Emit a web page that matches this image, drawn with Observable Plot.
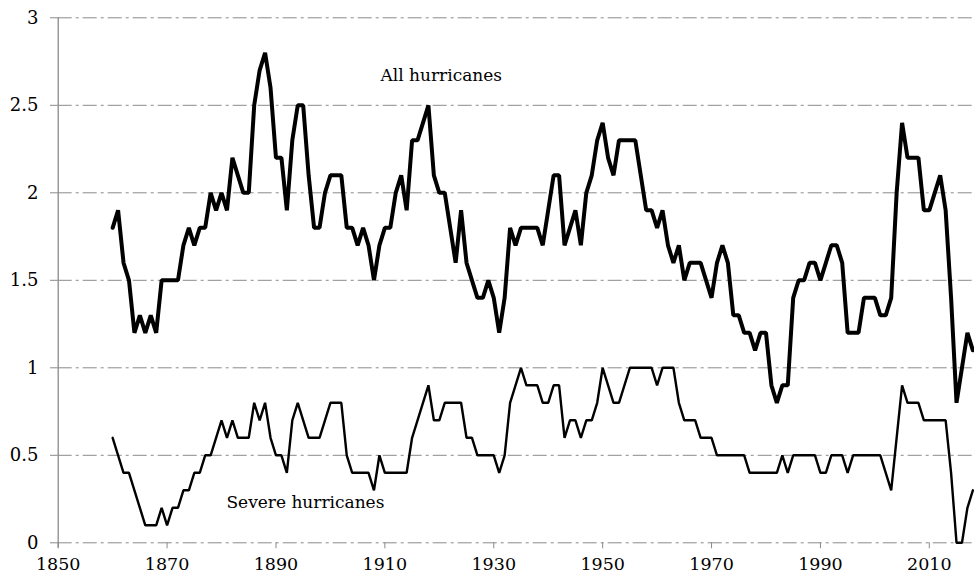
<!DOCTYPE html>
<html>
<head>
<meta charset="utf-8">
<script src="https://cdn.jsdelivr.net/npm/d3@7"></script>
<script src="https://cdn.jsdelivr.net/npm/@observablehq/plot@0.6"></script>
<style>
  html, body { margin: 0; padding: 0; background: #fff; }
  #chart { width: 974px; height: 581px; }
</style>
</head>
<body>
<div id="chart"></div>
<script>
const startYear = 1860;
const allHurricanes = [
  1.8, 1.9, 1.6, 1.5, 1.2, 1.3, 1.2, 1.3, 1.2, 1.5,
  1.5, 1.5, 1.5, 1.7, 1.8, 1.7, 1.8, 1.8, 2.0, 1.9,
  2.0, 1.9, 2.2, 2.1, 2.0, 2.0, 2.5, 2.7, 2.8, 2.6,
  2.2, 2.2, 1.9, 2.3, 2.5, 2.5, 2.1, 1.8, 1.8, 2.0,
  2.1, 2.1, 2.1, 1.8, 1.8, 1.7, 1.8, 1.7, 1.5, 1.7,
  1.8, 1.8, 2.0, 2.1, 1.9, 2.3, 2.3, 2.4, 2.5, 2.1,
  2.0, 2.0, 1.8, 1.6, 1.9, 1.6, 1.5, 1.4, 1.4, 1.5,
  1.4, 1.2, 1.4, 1.8, 1.7, 1.8, 1.8, 1.8, 1.8, 1.7,
  1.9, 2.1, 2.1, 1.7, 1.8, 1.9, 1.7, 2.0, 2.1, 2.3,
  2.4, 2.2, 2.1, 2.3, 2.3, 2.3, 2.3, 2.1, 1.9, 1.9,
  1.8, 1.9, 1.7, 1.6, 1.7, 1.5, 1.6, 1.6, 1.6, 1.5,
  1.4, 1.6, 1.7, 1.6, 1.3, 1.3, 1.2, 1.2, 1.1, 1.2,
  1.2, 0.9, 0.8, 0.9, 0.9, 1.4, 1.5, 1.5, 1.6, 1.6,
  1.5, 1.6, 1.7, 1.7, 1.6, 1.2, 1.2, 1.2, 1.4, 1.4,
  1.4, 1.3, 1.3, 1.4, 2.0, 2.4, 2.2, 2.2, 2.2, 1.9,
  1.9, 2.0, 2.1, 1.9, 1.4, 0.8, 1.0, 1.2, 1.1
];
const severeHurricanes = [
  0.6, 0.5, 0.4, 0.4, 0.3, 0.2, 0.1, 0.1, 0.1, 0.2,
  0.1, 0.2, 0.2, 0.3, 0.3, 0.4, 0.4, 0.5, 0.5, 0.6,
  0.7, 0.6, 0.7, 0.6, 0.6, 0.6, 0.8, 0.7, 0.8, 0.6,
  0.5, 0.5, 0.4, 0.7, 0.8, 0.7, 0.6, 0.6, 0.6, 0.7,
  0.8, 0.8, 0.8, 0.5, 0.4, 0.4, 0.4, 0.4, 0.3, 0.5,
  0.4, 0.4, 0.4, 0.4, 0.4, 0.6, 0.7, 0.8, 0.9, 0.7,
  0.7, 0.8, 0.8, 0.8, 0.8, 0.6, 0.6, 0.5, 0.5, 0.5,
  0.5, 0.4, 0.5, 0.8, 0.9, 1.0, 0.9, 0.9, 0.9, 0.8,
  0.8, 0.9, 0.9, 0.6, 0.7, 0.7, 0.6, 0.7, 0.7, 0.8,
  1.0, 0.9, 0.8, 0.8, 0.9, 1.0, 1.0, 1.0, 1.0, 1.0,
  0.9, 1.0, 1.0, 1.0, 0.8, 0.7, 0.7, 0.7, 0.6, 0.6,
  0.6, 0.5, 0.5, 0.5, 0.5, 0.5, 0.5, 0.4, 0.4, 0.4,
  0.4, 0.4, 0.4, 0.5, 0.4, 0.5, 0.5, 0.5, 0.5, 0.5,
  0.4, 0.4, 0.5, 0.5, 0.5, 0.4, 0.5, 0.5, 0.5, 0.5,
  0.5, 0.5, 0.4, 0.3, 0.6, 0.9, 0.8, 0.8, 0.8, 0.7,
  0.7, 0.7, 0.7, 0.7, 0.4, 0.0, 0.0, 0.2, 0.3
];
const xTicks = [1850, 1870, 1890, 1910, 1930, 1950, 1970, 1990, 2010];
const yTicks = [0, 0.5, 1, 1.5, 2, 2.5, 3];
const yTickLabels = ["0", "0.5", "1", "1.5", "2", "2.5", "3"];
const seriesLabels = [
  {text: "All hurricanes", year: 1909.2, value: 2.64},
  {text: "Severe hurricanes", year: 1880.9, value: 0.2}
];

const allData = allHurricanes.map((v, i) => ({year: startYear + i, value: v}));
const severeData = severeHurricanes.map((v, i) => ({year: startYear + i, value: v}));

const fontFamily = "DejaVu Serif";
const chart = Plot.plot({
  width: 974,
  height: 581,
  marginLeft: 57.7,
  marginRight: 0,
  marginTop: 17.3,
  marginBottom: 38.7,
  style: {fontFamily, fontSize: "18px", background: "#fff", color: "#000"},
  x: {domain: [1850, 2018.3]},
  y: {domain: [0, 3]},
  marks: [
    Plot.ruleY(yTicks, {stroke: "#8a8a8a", strokeWidth: 1, strokeDasharray: "14,4,3,4"}),
    Plot.ruleX([1850], {stroke: "#8a8a8a", strokeWidth: 1.3, y1: 3, y2: -0.03}),
    Plot.axisY(yTicks, {
      tickSize: 7.7, tickPadding: 12, stroke: "#8a8a8a", fill: "#000",
      fontSize: 18, fontFamily, label: null,
      tickFormat: d => yTickLabels[yTicks.indexOf(d)]
    }),
    Plot.axisX(xTicks, {
      tickSize: 6, tickPadding: 9, stroke: "#8a8a8a", fill: "#000",
      fontSize: 17.5, fontFamily, label: null,
      tickFormat: d => String(d)
    }),
    Plot.line(severeData, {x: "year", y: "value", stroke: "#000", strokeWidth: 2.4, strokeLinejoin: "miter"}),
    Plot.line(allData, {x: "year", y: "value", stroke: "#000", strokeWidth: 4, strokeLinejoin: "miter"}),
    Plot.text(seriesLabels, {
      x: "year", y: "value", text: "text", textAnchor: "start", lineAnchor: "bottom",
      fontSize: 17, fontFamily, fill: "#000"
    })
  ]
});
document.getElementById("chart").appendChild(chart);
</script>
</body>
</html>
